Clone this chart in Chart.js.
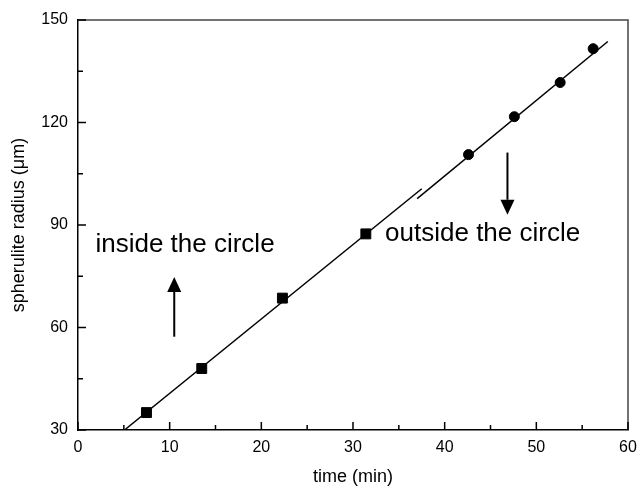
<!DOCTYPE html>
<html>
<head>
<meta charset="utf-8">
<script src="https://cdn.jsdelivr.net/npm/chart.js@4/dist/chart.umd.min.js"></script>
<style>
  html, body { margin: 0; padding: 0; background: #fff; }
  #wrap { width: 638px; height: 488px; }
</style>
</head>
<body>
<div id="wrap"><canvas id="chart"></canvas></div>
<script>
// measured points
const squareX = [7.47, 13.5, 22.3, 31.4];
const squareY = [35.1, 48.0, 68.6, 87.4];
const circleX = [42.6, 47.6, 52.6, 56.2];
const circleY = [110.6, 121.7, 131.7, 141.6];

// the two fitted lines (end points)
const fitInX = [5.07, 37.5];
const fitInY = [30, 100.6];
const fitOutX = [37.0, 57.8];
const fitOutY = [97.7, 143.7];

// axis ticks
const xTicks = [0, 10, 20, 30, 40, 50, 60];
const yTicks = [30, 60, 90, 120, 150];

// annotations: [x, yFrom, yTo]
const upArrow = [10.5, 57.3, 74.8];
const downArrow = [46.85, 111.2, 93.0];
const labelText = ['inside the circle', 'outside the circle'];
const labelX = [1.9, 33.5];
const labelY = [82.1, 85.3];

const FONT = '"Liberation Sans", Arial, sans-serif';

function pts(xs, ys) {
    return xs.map((x, i) => ({ x: x, y: ys[i] }));
}

const frame = {
    id: 'frame',
    afterDatasetsDraw(chart) {
        const ctx = chart.ctx;
        const a = chart.chartArea;
        const xs = chart.scales.x, ys = chart.scales.y;
        ctx.save();

        // top and right edges of the box
        ctx.strokeStyle = '#444';
        ctx.lineWidth = 1.5;
        ctx.beginPath();
        ctx.moveTo(a.left, a.top);
        ctx.lineTo(a.right, a.top);
        ctx.lineTo(a.right, a.bottom);
        ctx.stroke();

        // inward ticks, major and minor
        ctx.strokeStyle = '#000';
        ctx.lineWidth = 1.5;
        ctx.beginPath();
        for (let v = xs.min; v <= xs.max; v += 5) {
            const px = xs.getPixelForValue(v);
            const len = v % 10 === 0 ? 8 : 5;
            ctx.moveTo(px, a.bottom);
            ctx.lineTo(px, a.bottom - len);
        }
        for (let v = ys.min; v <= ys.max; v += 15) {
            const py = ys.getPixelForValue(v);
            const len = v % 30 === 0 ? 8 : 5;
            ctx.moveTo(a.left, py);
            ctx.lineTo(a.left + len, py);
        }
        ctx.stroke();

        // arrows
        ctx.fillStyle = '#000';
        [upArrow, downArrow].forEach(ar => {
            const px = xs.getPixelForValue(ar[0]);
            const p0 = ys.getPixelForValue(ar[1]);
            const p1 = ys.getPixelForValue(ar[2]);
            const dir = p1 < p0 ? -1 : 1;
            const head = 15;
            ctx.lineWidth = 2;
            ctx.beginPath();
            ctx.moveTo(px, p0);
            ctx.lineTo(px, p1 - dir * head);
            ctx.stroke();
            ctx.beginPath();
            ctx.moveTo(px, p1);
            ctx.lineTo(px - 7, p1 - dir * head);
            ctx.lineTo(px + 7, p1 - dir * head);
            ctx.closePath();
            ctx.fill();
        });

        // text labels
        ctx.font = '26px ' + FONT;
        ctx.textBaseline = 'alphabetic';
        ctx.textAlign = 'left';
        labelText.forEach((t, i) => {
            ctx.fillText(t, xs.getPixelForValue(labelX[i]), ys.getPixelForValue(labelY[i]));
        });
        ctx.restore();
    }
};

new Chart(document.getElementById('chart'), {
    type: 'scatter',
    data: {
        datasets: [{
            label: 'fit inside',
            data: pts(fitInX, fitInY),
            showLine: true,
            borderColor: '#000',
            borderWidth: 1.5,
            pointRadius: 0
        }, {
            label: 'fit outside',
            data: pts(fitOutX, fitOutY),
            showLine: true,
            borderColor: '#000',
            borderWidth: 1.5,
            pointRadius: 0
        }, {
            label: 'inside',
            data: pts(squareX, squareY),
            pointStyle: 'rect',
            pointRadius: 7,
            backgroundColor: '#000',
            borderColor: '#000'
        }, {
            label: 'outside',
            data: pts(circleX, circleY),
            pointStyle: 'circle',
            pointRadius: 5,
            backgroundColor: '#000',
            borderColor: '#000'
        }]
    },
    options: {
        responsive: true,
        maintainAspectRatio: false,
        animation: false,
        layout: { padding: { left: 0, right: 10, top: 20, bottom: 0 } },
        plugins: {
            legend: { display: false },
            tooltip: { enabled: false }
        },
        scales: {
            x: {
                type: 'linear',
                min: 0,
                max: 60,
                afterBuildTicks: s => { s.ticks = xTicks.map(v => ({ value: v })); },
                afterFit: s => {
                    s.height = 58;
                    s.paddingLeft = 0;
                    s.paddingRight = 0;
                },
                grid: { display: false, drawTicks: false },
                border: { display: true, color: '#000', width: 1.5 },
                ticks: { color: '#000', padding: 8, font: { family: FONT, size: 16 } },
                title: {
                    display: true,
                    text: 'time (min)',
                    color: '#000',
                    padding: { top: 7, bottom: 0 },
                    font: { family: FONT, size: 18 }
                }
            },
            y: {
                type: 'linear',
                min: 30,
                max: 150,
                afterBuildTicks: s => { s.ticks = yTicks.map(v => ({ value: v })); },
                afterFit: s => {
                    s.width = 78;
                    s.paddingTop = 0;
                    s.paddingBottom = 0;
                },
                grid: { display: false, drawTicks: false },
                border: { display: true, color: '#000', width: 1.5 },
                ticks: { color: '#000', padding: 10, font: { family: FONT, size: 16 } },
                title: {
                    display: true,
                    text: 'spherulite radius (\u03bcm)',
                    color: '#000',
                    padding: { top: 8, bottom: 0 },
                    font: { family: FONT, size: 18 }
                }
            }
        }
    },
    plugins: [frame]
});
</script>
</body>
</html>
